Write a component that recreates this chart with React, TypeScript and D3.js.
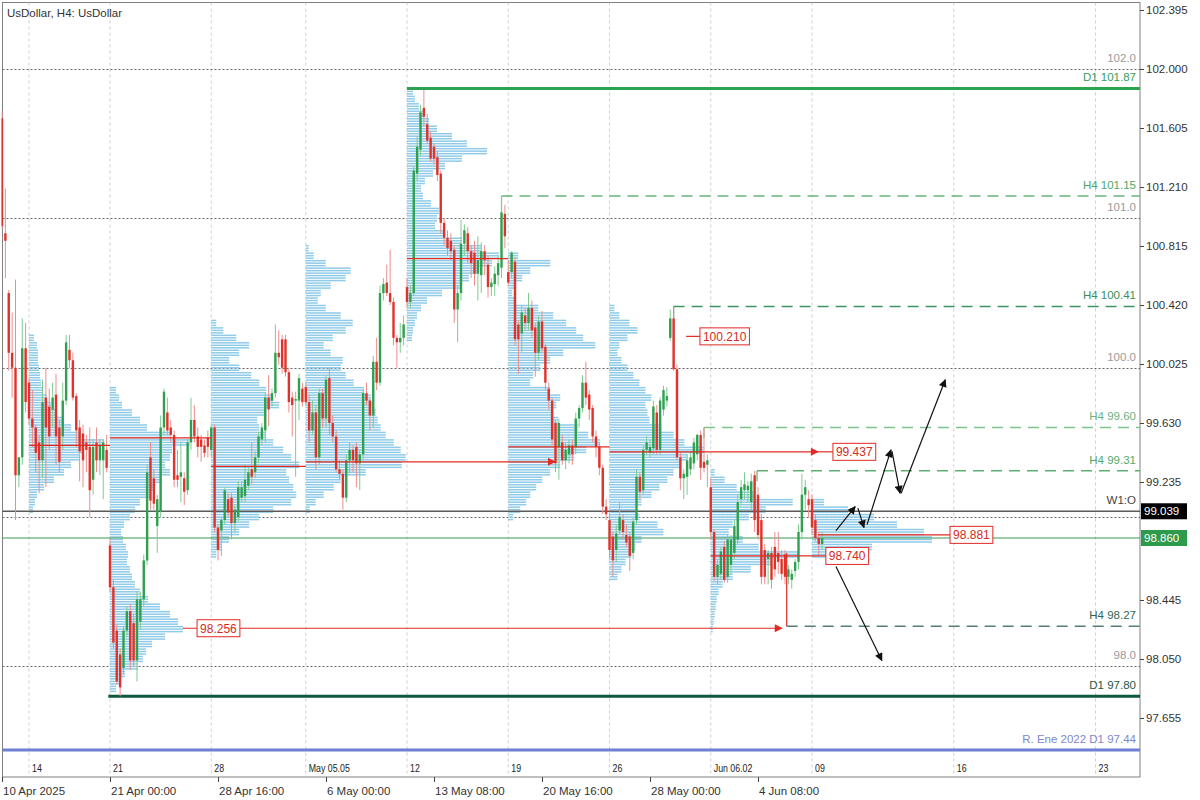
import React from 'react';
import * as d3 from 'd3';

type C = [number, number, number, number]; // open, high, low, close

// ---------- candles (H4), one array per week ----------
const wkApr10: C[] = [
  [101.67, 101.72, 100.92, 100.95], [100.9, 101.2, 100.6, 100.85], [100.5, 100.52, 99.98, 100.1],
  [100.1, 100.37, 99.8, 100.0], [100.0, 100.59, 98.98, 99.28], [99.28, 99.4, 99.2, 99.4],
  [99.4, 100.33, 99.35, 100.13], [100.13, 100.3, 99.7, 99.77],
];
const wkApr14: C[] = [
  [99.9, 99.93, 99.62, 99.66], [99.66, 99.85, 99.47, 99.6], [99.6, 99.62, 99.3, 99.43],
  [99.5, 99.55, 99.16, 99.38], [99.38, 99.92, 99.26, 99.77], [99.8, 100.0, 99.2, 99.6],
  [99.74, 99.86, 99.45, 99.54], [99.72, 99.9, 99.6, 99.8], [99.82, 99.96, 99.35, 99.54],
  [99.6, 99.65, 99.3, 99.37], [99.54, 99.9, 99.45, 99.78], [99.78, 100.22, 99.75, 100.17],
  [100.12, 100.22, 100.0, 100.05], [100.05, 100.1, 99.78, 99.8], [99.81, 99.83, 99.47, 99.58],
  [99.6, 99.65, 99.24, 99.44], [99.56, 99.62, 99.2, 99.38], [99.5, 99.55, 99.3, 99.45],
  [99.47, 99.6, 99.0, 99.18], [99.25, 99.52, 99.15, 99.47], [99.5, 99.6, 99.3, 99.38],
  [99.38, 99.52, 99.28, 99.48], [99.38, 99.52, 99.12, 99.5], [99.45, 99.55, 99.3, 99.33],
];
const wkApr21: C[] = [
  [98.81, 98.86, 98.5, 98.53], [98.53, 98.58, 98.12, 98.16], [98.24, 98.28, 97.88, 97.9],
  [98.08, 98.12, 97.8, 97.86], [97.99, 98.27, 97.95, 98.24], [98.24, 98.4, 98.2, 98.37],
  [98.37, 98.42, 97.98, 98.04], [98.29, 98.35, 98.0, 98.04], [98.04, 98.5, 97.9, 98.45],
  [98.3, 98.5, 98.25, 98.45], [98.45, 98.75, 98.4, 98.71], [98.71, 99.35, 98.68, 99.3],
  [99.4, 99.5, 99.05, 99.11], [99.26, 99.32, 99.05, 99.09], [98.94, 99.15, 98.76, 99.12],
  [99.04, 99.68, 99.0, 99.6], [99.6, 99.86, 99.55, 99.84], [99.7, 99.8, 99.55, 99.58],
  [99.6, 99.65, 99.5, 99.55], [99.55, 99.58, 99.2, 99.25], [99.28, 99.45, 99.2, 99.25],
  [99.27, 99.5, 99.1, 99.3], [99.26, 99.3, 99.08, 99.17], [99.18, 99.52, 99.15, 99.5],
  [99.5, 99.8, 99.45, 99.65], [99.65, 99.75, 99.5, 99.54], [99.54, 99.6, 99.4, 99.47],
  [99.52, 99.55, 99.37, 99.47], [99.48, 99.52, 99.4, 99.43], [99.53, 99.58, 99.4, 99.47],
];
const wkApr28: C[] = [
  [99.45, 99.62, 99.4, 99.6], [99.6, 99.62, 98.9, 98.93], [98.93, 98.95, 98.71, 98.78],
  [98.91, 99.0, 98.74, 98.98], [98.98, 99.2, 98.95, 99.18], [99.12, 99.16, 99.0, 99.03],
  [99.13, 99.16, 98.85, 98.96], [98.96, 99.08, 98.9, 99.05], [99.0, 99.24, 98.97, 99.2],
  [99.13, 99.24, 99.1, 99.2], [99.14, 99.35, 99.1, 99.25], [99.21, 99.33, 99.18, 99.3],
  [99.32, 99.5, 99.22, 99.27], [99.3, 99.44, 99.26, 99.4], [99.4, 99.57, 99.36, 99.54],
  [99.52, 99.63, 99.48, 99.6], [99.58, 99.83, 99.5, 99.8], [99.8, 99.95, 99.61, 99.72],
  [99.78, 99.86, 99.74, 99.83], [99.83, 100.29, 99.8, 100.1], [100.1, 100.25, 100.02, 100.07],
  [100.19, 100.22, 99.96, 100.0], [100.19, 100.22, 99.94, 99.97], [99.97, 100.0, 99.7, 99.77],
  [99.8, 99.84, 99.54, 99.75], [99.78, 99.84, 99.27, 99.79], [99.78, 99.96, 99.65, 99.93],
  [99.86, 99.9, 99.74, 99.77],
];
const wkMay05: C[] = [
  [99.87, 99.9, 99.75, 99.77], [99.77, 99.82, 99.5, 99.58], [99.58, 99.78, 99.55, 99.7],
  [99.7, 99.75, 99.32, 99.4], [99.4, 99.86, 99.35, 99.83], [99.83, 99.86, 99.6, 99.66],
  [99.66, 99.95, 99.6, 99.92], [99.93, 100.0, 99.55, 99.63], [99.63, 99.68, 99.5, 99.54],
  [99.54, 99.58, 99.3, 99.32], [99.32, 99.38, 99.25, 99.29], [99.29, 99.32, 99.05, 99.13],
  [99.13, 99.42, 99.1, 99.38], [99.38, 99.5, 99.3, 99.45], [99.45, 99.48, 99.3, 99.38],
  [99.47, 99.5, 99.2, 99.36], [99.36, 99.45, 99.18, 99.42], [99.42, 99.86, 99.38, 99.83],
  [99.83, 99.9, 99.75, 99.78], [99.78, 99.8, 99.58, 99.68], [99.68, 100.08, 99.6, 100.04],
  [100.04, 100.2, 99.85, 99.9], [99.9, 100.55, 99.88, 100.5], [100.5, 100.6, 100.45, 100.56],
  [100.57, 100.69, 100.48, 100.5], [100.5, 100.79, 100.42, 100.44], [100.44, 100.47, 100.15, 100.2],
  [100.2, 100.22, 100.0, 100.17], [100.17, 100.3, 100.1, 100.2], [100.2, 100.35, 100.15, 100.29],
];
const wkMay12: C[] = [
  [100.54, 100.6, 100.4, 100.44], [100.44, 100.55, 100.4, 100.5], [100.5, 101.35, 100.48, 101.32],
  [101.3, 101.55, 101.25, 101.48], [101.46, 101.76, 101.42, 101.71], [101.74, 101.86, 101.62, 101.68],
  [101.63, 101.7, 101.5, 101.52], [101.54, 101.58, 101.38, 101.4], [101.48, 101.5, 101.36, 101.4],
  [101.41, 101.45, 101.25, 101.29], [101.3, 101.32, 100.9, 100.97], [100.97, 101.0, 100.82, 100.87],
  [100.87, 100.92, 100.75, 100.8], [100.85, 100.9, 100.72, 100.78], [100.79, 100.82, 100.3, 100.39],
  [100.39, 100.55, 100.17, 100.5], [100.5, 100.99, 100.45, 100.83], [100.83, 100.96, 100.75, 100.92],
  [100.9, 100.94, 100.7, 100.78], [100.78, 100.82, 100.6, 100.7], [100.77, 100.85, 100.55, 100.63],
  [100.63, 100.88, 100.45, 100.72], [100.62, 100.84, 100.5, 100.78], [100.78, 100.82, 100.62, 100.72],
  [100.69, 100.75, 100.47, 100.54], [100.54, 100.6, 100.48, 100.57], [100.56, 100.68, 100.48, 100.63],
  [100.62, 100.75, 100.55, 100.7], [100.67, 101.15, 100.6, 101.04], [101.03, 101.09, 100.8, 100.88],
];
const wkMay19: C[] = [
  [100.64, 100.72, 100.55, 100.57], [100.64, 100.78, 100.6, 100.77], [100.71, 100.74, 100.15, 100.19],
  [100.29, 100.32, 99.96, 100.19], [100.23, 100.42, 100.1, 100.37], [100.35, 100.4, 100.25, 100.3],
  [100.3, 100.5, 100.25, 100.4], [100.4, 100.45, 100.2, 100.25], [100.27, 100.3, 99.94, 100.1],
  [100.1, 100.35, 100.05, 100.31], [100.31, 100.38, 100.1, 100.13], [100.14, 100.16, 99.85, 99.9],
  [99.86, 99.9, 99.72, 99.78], [99.78, 99.8, 99.48, 99.52], [99.63, 99.65, 99.3, 99.36],
  [99.47, 99.66, 99.25, 99.63], [99.5, 99.55, 99.35, 99.38], [99.38, 99.5, 99.32, 99.45],
  [99.42, 99.52, 99.36, 99.48], [99.48, 99.52, 99.35, 99.42], [99.47, 99.7, 99.42, 99.66],
  [99.66, 99.75, 99.6, 99.73], [99.73, 99.95, 99.7, 99.9], [99.9, 100.04, 99.75, 99.8],
  [99.82, 99.85, 99.65, 99.72], [99.73, 99.75, 99.5, 99.54], [99.54, 99.58, 99.4, 99.47],
  [99.47, 99.5, 99.28, 99.33], [99.33, 99.35, 99.02, 99.07], [99.07, 99.12, 98.98, 99.02],
];
const wkMay26: C[] = [
  [98.98, 99.02, 98.72, 98.78], [98.87, 98.9, 98.6, 98.71], [98.78, 98.95, 98.7, 98.89],
  [98.91, 99.1, 98.88, 99.0], [98.98, 99.02, 98.85, 98.9], [98.88, 98.95, 98.8, 98.83],
  [98.87, 98.9, 98.64, 98.74], [98.76, 99.0, 98.72, 98.97], [98.98, 99.32, 98.95, 99.27],
  [99.27, 99.3, 99.12, 99.17], [99.18, 99.48, 99.15, 99.45], [99.45, 99.54, 99.42, 99.5],
  [99.43, 99.52, 99.4, 99.47], [99.46, 99.78, 99.42, 99.74], [99.7, 99.75, 99.42, 99.45],
  [99.45, 99.8, 99.42, 99.78], [99.72, 99.88, 99.68, 99.85], [99.78, 99.87, 99.74, 99.81],
  [100.2, 100.39, 100.18, 100.33], [100.33, 100.41, 99.98, 99.99], [99.99, 100.02, 99.38, 99.4],
  [99.4, 99.43, 99.18, 99.26], [99.26, 99.32, 99.12, 99.29], [99.27, 99.42, 99.15, 99.38],
  [99.32, 99.44, 99.28, 99.4], [99.36, 99.53, 99.32, 99.5], [99.42, 99.56, 99.38, 99.55],
  [99.55, 99.58, 99.25, 99.33], [99.37, 99.6, 99.3, 99.33], [99.35, 99.42, 99.2, 99.38],
];
const wkJun02: C[] = [
  [99.2, 99.26, 98.85, 98.9], [98.9, 98.92, 98.57, 98.6], [98.6, 98.72, 98.55, 98.68],
  [98.62, 98.8, 98.58, 98.77], [98.8, 98.84, 98.56, 98.58], [98.6, 98.88, 98.56, 98.85],
  [98.68, 98.88, 98.62, 98.85], [98.76, 98.98, 98.72, 98.94], [98.85, 99.15, 98.82, 99.1],
  [99.12, 99.25, 99.08, 99.2], [99.18, 99.3, 99.12, 99.22], [99.18, 99.24, 99.1, 99.21],
  [99.1, 99.29, 99.05, 99.24], [99.28, 99.31, 98.9, 98.98], [99.15, 99.2, 98.85, 98.88],
  [98.98, 99.02, 98.55, 98.6], [98.78, 98.82, 98.55, 98.6], [98.72, 98.78, 98.55, 98.76],
  [98.76, 98.8, 98.52, 98.58], [98.8, 98.9, 98.6, 98.65], [98.76, 98.9, 98.62, 98.7],
  [98.72, 98.78, 98.58, 98.62], [98.75, 98.78, 98.55, 98.6], [98.6, 98.68, 98.55, 98.65],
  [98.58, 98.65, 98.52, 98.62], [98.64, 98.72, 98.6, 98.7], [98.7, 98.95, 98.65, 98.9],
  [98.9, 99.29, 98.85, 99.15], [99.15, 99.25, 99.05, 99.2], [99.12, 99.18, 99.0, 99.08],
];
const wkJun09: C[] = [
  [99.12, 99.15, 98.88, 98.93], [98.98, 99.02, 98.84, 98.86], [98.86, 98.9, 98.74, 98.82],
  [98.82, 98.9, 98.78, 98.86],
];
const candles: C[] = [wkApr10, wkApr14, wkApr21, wkApr28, wkMay05, wkMay12, wkMay19, wkMay26, wkJun02, wkJun09].flat();

// ---------- weekly volume profiles (bins of 0.05 from top price down) ----------
const vpStart = [8, 32, 62, 90, 120, 150, 180, 210, 240];
const vpTop = [100.2, 99.85, 100.3, 100.8, 101.85, 100.75, 100.4, 99.3, 99.1];
const vpApr14 = [5, 8, 9, 9, 10, 11, 12, 14, 18, 22, 28, 35, 42, 52, 75, 55, 50, 42, 35, 25, 15, 8, 6, 4];
const vpApr21 = [6, 9, 12, 22, 30, 37, 60, 80, 62, 60, 55, 60, 52, 45, 40, 30, 25, 20, 14, 11, 13, 16, 18, 17, 20, 22, 25, 30, 38, 50, 60, 68, 73, 55, 42, 36, 33, 28, 15, 10, 6];
const vpApr28 = [5, 12, 25, 38, 28, 18, 28, 40, 48, 55, 62, 68, 55, 46, 48, 55, 62, 72, 80, 88, 75, 78, 82, 85, 80, 62, 48, 38, 28, 18, 10, 5];
const vpMay05 = [3, 8, 20, 45, 40, 25, 15, 12, 20, 35, 47, 40, 27, 18, 25, 37, 35, 40, 48, 58, 65, 68, 70, 72, 75, 80, 88, 95, 100, 96, 60, 35, 28, 18, 10, 4];
const vpMay12 = [6, 8, 12, 18, 22, 30, 45, 60, 80, 55, 38, 26, 18, 14, 16, 24, 32, 30, 28, 38, 55, 75, 92, 85, 72, 62, 55, 35, 20, 14, 10, 8, 6, 5];
const vpMay19 = [10, 42, 22, 14, 6, 4, 8, 30, 45, 58, 68, 75, 87, 55, 42, 32, 25, 22, 42, 52, 48, 45, 50, 70, 80, 92, 78, 66, 52, 42, 34, 28, 22, 18, 12, 5];
const vpMay26 = [5, 10, 20, 28, 18, 10, 8, 12, 18, 24, 30, 36, 42, 36, 38, 40, 52, 64, 75, 94, 78, 70, 64, 58, 50, 42, 32, 26, 30, 48, 54, 32, 26, 22, 16, 12, 8];
const vpJun02 = [4, 14, 26, 45, 82, 55, 38, 22, 18, 32, 48, 88, 60, 40, 22, 12, 8, 6, 5, 4, 3, 2];
const vpJun09 = [12, 36, 62, 85, 112, 120, 60, 14];
const profiles = [vpApr14, vpApr21, vpApr28, vpMay05, vpMay12, vpMay19, vpMay26, vpJun02, vpJun09];
const VP_STEP = 0.05;

// ---------- axes ----------
const weekIdx = [8, 32, 62, 90, 120, 150, 180, 210, 240, 282, 324];
const weekLabels = ['14', '21', '28', 'May 05.05', '12', '19', '26', 'Jun 06.02', '09', '16', '23'];
const timeIdx = [0, 32, 64, 96, 128, 160, 192, 224];
const timeLabels = ['10 Apr 2025', '21 Apr 00:00', '28 Apr 16:00', '6 May 00:00', '13 May 08:00', '20 May 16:00', '28 May 00:00', '4 Jun 08:00'];
const priceTicks = [102.395, 102.0, 101.605, 101.21, 100.815, 100.42, 100.025, 99.63, 99.235, 98.445, 98.05, 97.655];
const roundLevels = [102, 101, 100, 99, 98];
const roundLabels = ['102.0', '101.0', '100.0', '', '98.0'];

// ---------- levels ----------
const levelPrices = [101.87, 101.15, 100.41, 99.6, 99.31, 98.27, 97.8, 97.44, 99.039, 98.86];
const levelFrom = [120, 148, 199, 208, 223.7, 232.5, 31.5, 0, 0, 0];
const levelLabels = ['D1 101.87', 'H4 101.15', 'H4 100.41', 'H4 99.60', 'H4 99.31', 'H4 98.27', 'D1 97.80', 'R. Ene 2022 D1 97.44', 'W1:O', ''];
const levelCorner = [null, 101.04, 100.33, 99.53, 99.24, null, null, null, null, null];

// ---------- red annotations ----------
const redSegs = [
  [8, 32, 99.48], [32, 62, 99.53], [62, 90, 99.34], [120, 150, 100.73], [150, 180, 99.47],
  [202.7, 206.8, 100.21], [53.6, 57.8, 98.256], [210, 244.1, 98.74], [241.8, 280.9, 98.881], [241.8, 246.2, 99.437],
];
const redArrows = [[90, 163.9, 99.37], [69.6, 231.1, 98.256], [180, 241.8, 99.437]];
const redLabelIdx = [206.8, 246.2, 57.8, 244.1, 280.9];
const redLabelPrice = [100.21, 99.437, 98.256, 98.74, 98.881];
const redLabelText = ['100.210', '99.437', '98.256', '98.740', '98.881'];
const redVertical = [232.5, 98.76, 98.27];

// ---------- scenario arrows (idx, price) ----------
const blackArrows = [
  [[247.1, 98.91], [252.8, 99.07]],
  [[253.6, 99.06], [255.4, 98.93]],
  [[256.3, 98.95], [263.4, 99.45]],
  [[263.7, 99.44], [266.1, 99.16]],
  [[266.4, 99.16], [279.5, 99.92]],
  [[247.1, 98.67], [260.7, 98.04]],
];

const W = 1200, H = 800;
const PL = 2.5, PT = 2.5, PR = 1140, PB = 777;
const X = d3.scaleLinear().domain([0, 324]).range([2, 1095.5]);
const Y = d3.scaleLinear().domain([97.655, 102.395]).range([718, 10]);
const V = d3.scaleLinear().domain([0, 100]).range([0, 100]);
const FONT = 'Liberation Sans, Arial, sans-serif';

const levelColor = ['#2ca24f', '#66b57a', '#3f9462', '#7cc38c', '#5fb073', '#557f72', '#0b5a3e', '#6f7fd2', '#5a5a5a', '#3a9a50'];
const levelLabelColor = ['#35a05a', '#4ea766', '#3a8f5c', '#6cb47c', '#55a86a', '#2f6652', '#1d5a44', '#8088cc', '#444', ''];
const levelWidth = [3, 1.5, 1.5, 1.5, 1.5, 1.5, 3, 3, 1.6, 1];
const levelDash = [null, '11,7', '11,7', '11,7', '11,7', '11,7', null, null, null, null];

function textW(s: string) {
  let w = 0;
  for (const ch of s) w += ch === '.' ? 3.3 : 6.7;
  return w;
}

export default function App() {
  const red = '#e02a22';
  return (
    <svg width={W} height={H} style={{ position: 'absolute', left: 0, top: 0, background: '#fff' }} fontFamily={FONT}>
      <defs>
        <clipPath id="plot"><rect x={1.5} y={PT} width={PR - 1.5} height={PB - PT} /></clipPath>
        <marker id="ahB" viewBox="0 0 10 10" refX="9" refY="5" markerWidth="10" markerHeight="8" markerUnits="userSpaceOnUse" orient="auto">
          <path d="M0,0 L10,5 L0,10 z" fill="#111" />
        </marker>
        <marker id="ahR" viewBox="0 0 10 10" refX="9" refY="5" markerWidth="9" markerHeight="8" markerUnits="userSpaceOnUse" orient="auto">
          <path d="M0,0 L10,5 L0,10 z" fill={red} />
        </marker>
      </defs>
      <rect x={0} y={0} width={W} height={H} fill="#fff" />
      {/* frame (drawn first so edge candles can sit over it) */}
      <rect x={PL} y={PT} width={PR - PL} height={PB - PT} fill="none" stroke="#808080" strokeWidth={1} />
      <g clipPath="url(#plot)">
        {/* week separators */}
        {weekIdx.map((w, i) => (
          <line key={'w' + i} x1={X(w)} x2={X(w)} y1={PT} y2={PB} stroke="#cfcfcf" strokeDasharray="3,3" />
        ))}
        {/* round number levels */}
        {roundLevels.map((r, i) => (
          <line key={'r' + i} x1={PL} x2={PR} y1={Math.round(Y(r)) + 0.5} y2={Math.round(Y(r)) + 0.5} stroke="#666" strokeDasharray="2,2" />
        ))}
        {/* volume profiles */}
        {profiles.map((vp, k) => (
          <g key={'vp' + k} fill="#8fcbe8">
            {vp.map((v, j) => {
              const yc = Y(vpTop[k] - j * VP_STEP);
              const x0 = X(vpStart[k]);
              return [-2.5, 0, 2.5].map((o, m) => (
                <rect key={j + '_' + m} x={x0} y={yc + o - 0.75} width={V(v)} height={1.5} />
              ));
            })}
          </g>
        ))}
        {/* levels */}
        {levelPrices.map((p, i) => {
          const y = Y(p);
          const x0 = levelFrom[i] === 0 ? PL : X(levelFrom[i]);
          return (
            <g key={'lv' + i}>
              <line x1={x0} x2={PR} y1={y} y2={y} stroke={levelColor[i]} strokeWidth={levelWidth[i]} strokeDasharray={levelDash[i] || undefined} />
              {levelCorner[i] != null && (
                <line x1={x0} x2={x0} y1={y} y2={Y(levelCorner[i] as number)} stroke={levelColor[i]} strokeWidth={1.2} />
              )}
            </g>
          );
        })}
        {/* candles */}
        {candles.map((c, i) => {
          const [o, h, l, cl] = c;
          const up = cl >= o;
          const cx = X(i);
          const yt = Y(Math.max(o, cl));
          const yb = Y(Math.min(o, cl));
          return (
            <g key={'c' + i}>
              <line x1={cx} x2={cx} y1={Y(h)} y2={Y(l)} stroke={up ? '#7fcb92' : '#ee8c8c'} strokeWidth={1} />
              <rect x={cx - 1.2} y={yt} width={2.4} height={Math.max(1, yb - yt)} fill={up ? '#2ea04f' : '#e0322a'} />
            </g>
          );
        })}
        {/* red annotations */}
        {redSegs.map((s, i) => (
          <line key={'rs' + i} x1={X(s[0])} x2={X(s[1])} y1={Y(s[2])} y2={Y(s[2])} stroke={red} strokeWidth={1.2} />
        ))}
        {redArrows.map((s, i) => (
          <line key={'ra' + i} x1={X(s[0])} x2={X(s[1])} y1={Y(s[2])} y2={Y(s[2])} stroke={red} strokeWidth={1.2} markerEnd="url(#ahR)" />
        ))}
        <line x1={X(redVertical[0])} x2={X(redVertical[0])} y1={Y(redVertical[1])} y2={Y(redVertical[2])} stroke={red} strokeWidth={1.2} />
        {redLabelText.map((t, i) => {
          const x = X(redLabelIdx[i]);
          const y = Y(redLabelPrice[i]);
          const w = textW(t) + 6;
          return (
            <g key={'rl' + i}>
              <rect x={x} y={y - 8.5} width={w} height={17} fill="#fff" stroke={red} strokeWidth={1} />
              <text x={x + 3} y={y + 4.5} fontSize={12} fill="#d42a22">{t}</text>
            </g>
          );
        })}
        {/* scenario arrows */}
        {blackArrows.map((a, i) => (
          <line key={'ba' + i} x1={X(a[0][0])} y1={Y(a[0][1])} x2={X(a[1][0])} y2={Y(a[1][1])} stroke="#111" strokeWidth={1.2} markerEnd="url(#ahB)" />
        ))}
        {/* level labels */}
        {levelLabels.map((t, i) => t ? (
          <text key={'ll' + i} x={PR - 4} y={Y(levelPrices[i]) - 7} fontSize={11.5} textAnchor="end" fill={levelLabelColor[i]}>{t}</text>
        ) : null)}
        {roundLabels.map((t, i) => t ? (
          <text key={'rl2' + i} x={PR - 4} y={Y(roundLevels[i]) - 7} fontSize={11.5} textAnchor="end" fill="#9a9a9a">{t}</text>
        ) : null)}
        {/* week labels */}
        {weekIdx.map((w, i) => (
          <text key={'wl' + i} transform={`translate(${X(w) + 3},${772}) scale(0.8,1)`} fontSize={11} fill="#222">{weekLabels[i]}</text>
        ))}
        <text x={7} y={17} fontSize={11.5} fill="#333">UsDollar, H4:  UsDollar</text>
      </g>
      {/* right axis */}
      {priceTicks.map((p, i) => (
        <g key={'pt' + i}>
          <line x1={PR} x2={PR + 4} y1={Math.round(Y(p)) + 0.5} y2={Math.round(Y(p)) + 0.5} stroke="#444" />
          <text x={PR + 6} y={Y(p) + 4} fontSize={11.5} fill="#333">{p.toFixed(3)}</text>
        </g>
      ))}
      <g>
        <rect x={PR + 1} y={Y(99.039) - 8} width={46} height={16} fill="#000" />
        <text x={PR + 4} y={Y(99.039) + 4} fontSize={11.5} fill="#fff">99.039</text>
        <rect x={PR + 1} y={Y(98.86) - 8} width={46} height={16} fill="#2e9a4c" />
        <text x={PR + 4} y={Y(98.86) + 4} fontSize={11.5} fill="#fff">98.860</text>
      </g>
      {/* bottom axis */}
      {timeIdx.map((t, i) => (
        <g key={'tt' + i}>
          <line x1={Math.round(X(t)) + 0.5} x2={Math.round(X(t)) + 0.5} y1={PB} y2={PB + 5} stroke="#444" />
          <text x={Math.max(3, X(t) + 1)} y={795} fontSize={11.5} fill="#333">{timeLabels[i]}</text>
        </g>
      ))}
    </svg>
  );
}
